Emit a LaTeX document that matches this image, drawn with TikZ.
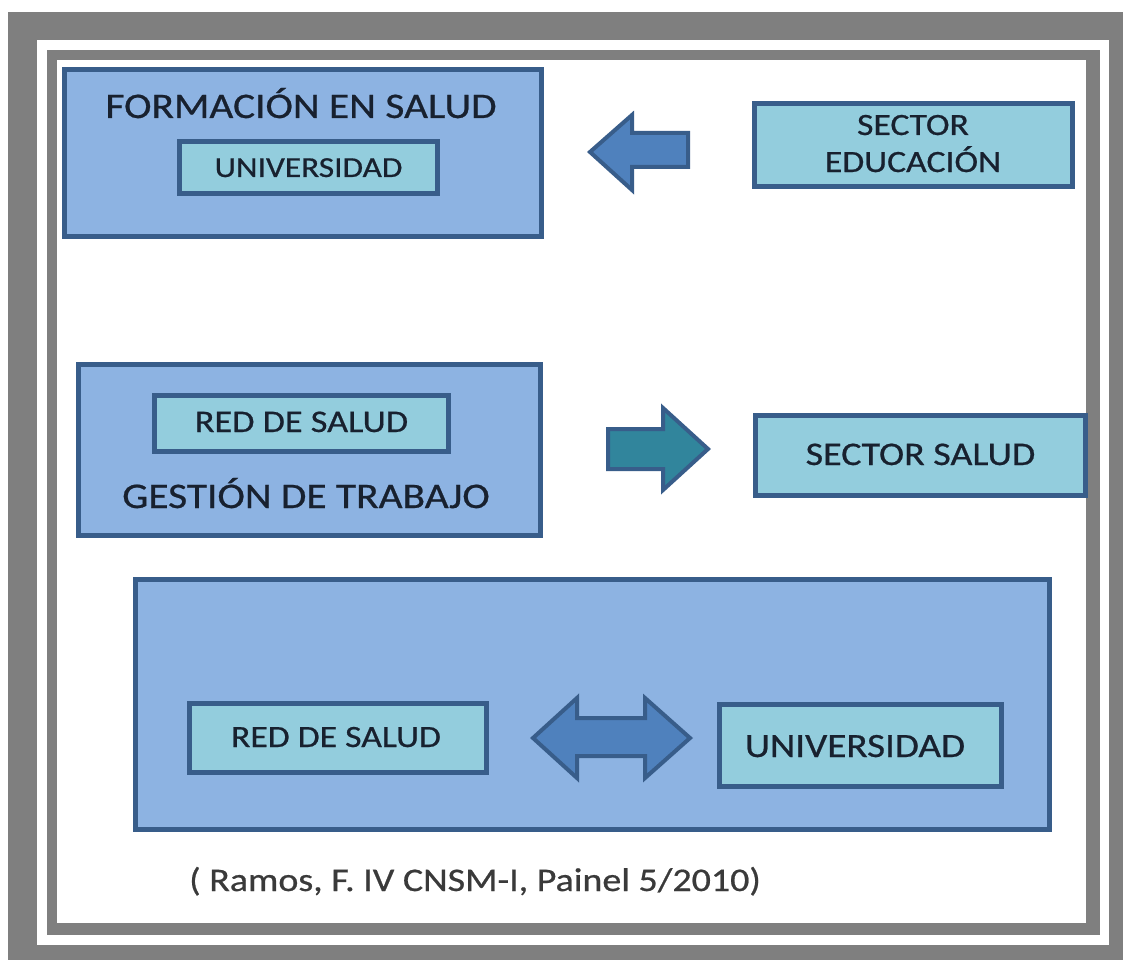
\documentclass[tikz,border=0pt]{standalone}
\usepackage{fontspec}
\setmainfont{Carlito}[FakeBold=0.6]
\usepackage{graphicx}
\usepackage{xcolor}
\usepackage{tikz}

\definecolor{marco}{HTML}{7F7F7F}
\definecolor{cajaazul}{HTML}{8DB3E2}
\definecolor{cajaceleste}{HTML}{93CDDD}
\definecolor{bordeazul}{HTML}{385D8A}
\definecolor{flechaazul}{HTML}{4F81BD}
\definecolor{flechaverde}{HTML}{31859C}
\definecolor{texto}{HTML}{18212F}
\definecolor{cita}{HTML}{3A3A3A}

% text is a little wider than the font
\newcommand{\ancho}[1]{\scalebox{1.15}[1]{#1}}

\tikzset{
  grande/.style={draw=bordeazul, line width=5pt, fill=cajaazul, inner sep=0pt},
  chica/.style={draw=bordeazul, line width=5pt, fill=cajaceleste, inner sep=0pt},
  flecha/.style={draw=bordeazul, line width=4pt, line join=miter, fill=flechaazul},
  rotulo/.style={text=texto, anchor=base, inner sep=0pt}
}

\begin{document}
\begin{tikzpicture}[x=1pt, y=-1pt]
    % Frame around the slide
    \useasboundingbox (0,0) rectangle (1123,960);
    \fill[white] (0,0) rectangle (1123,960);
    \fill[marco] (8,12) rectangle (1123,960);
    \fill[white] (37,40) rectangle (1109,945);
    \fill[marco] (47,50) rectangle (1100,935);
    \fill[white] (57,60) rectangle (1086,923);

    % Big boxes
    \node[grande, minimum width=477, minimum height=166] (formacion) at (302.5,153) {};
    \node[grande, minimum width=462, minimum height=171] (gestion) at (309.5,450) {};
    \node[grande, minimum width=914, minimum height=250] (vinculo) at (592,704) {};

    % Small boxes
    \node[chica, minimum width=258, minimum height=52] (univ) at (308.5,167.5) {};
    \node[chica, minimum width=318, minimum height=83] (educ) at (913,145) {};
    \node[chica, minimum width=294, minimum height=56] (red) at (301.5,423.5) {};
    \node[chica, minimum width=330, minimum height=80] (salud) at (920.5,455.5) {};
    \node[chica, minimum width=297, minimum height=69] (redb) at (338,738) {};
    \node[chica, minimum width=282, minimum height=82] (univb) at (860,745) {};

    % Labels
    \node[rotulo, font=\fontsize{36}{36}\selectfont] at (301,118) {\ancho{FORMACIÓN EN SALUD}};
    \node[rotulo, font=\fontsize{29}{29}\selectfont] at (univ.center |- 0,177) {\ancho{UNIVERSIDAD}};
    \node[rotulo, font=\fontsize{31}{31}\selectfont] at (educ.center |- 0,135) {\ancho{SECTOR}};
    \node[rotulo, font=\fontsize{31}{31}\selectfont] at (educ.center |- 0,172) {\ancho{EDUCACIÓN}};
    \node[rotulo, font=\fontsize{31.5}{31.5}\selectfont] at (red.center |- 0,432) {\ancho{RED DE SALUD}};
    \node[rotulo, font=\fontsize{36}{36}\selectfont] at (306,508) {\ancho{GESTIÓN DE TRABAJO}};
    \node[rotulo, font=\fontsize{33}{33}\selectfont] at (salud.center |- 0,465) {\ancho{SECTOR SALUD}};
    \node[rotulo, font=\fontsize{31}{31}\selectfont] at (336,747) {\ancho{RED DE SALUD}};
    \node[rotulo, font=\fontsize{34}{34}\selectfont] at (855,757) {\ancho{UNIVERSIDAD}};
    \node[rotulo, text=cita, anchor=base west, font=\fontsize{33}{33}\selectfont] at (189,891) {\ancho{( Ramos, F. IV CNSM-I, Painel 5/2010)}};

    % Block arrows
    \draw[flecha] (590,152) -- (632,115) -- (632,133) -- (688,133) -- (688,167)
        -- (632,167) -- (632,190) -- cycle;
    \draw[flecha, fill=flechaverde] (708,449) -- (663,408) -- (663,429) -- (608,429)
        -- (608,469) -- (663,469) -- (663,490) -- cycle;
    \draw[flecha] (533,738) -- (577,698) -- (577,718) -- (645,718) -- (645,698)
        -- (690,738) -- (645,778) -- (645,756) -- (577,756) -- (577,778) -- cycle;
\end{tikzpicture}
\end{document}
